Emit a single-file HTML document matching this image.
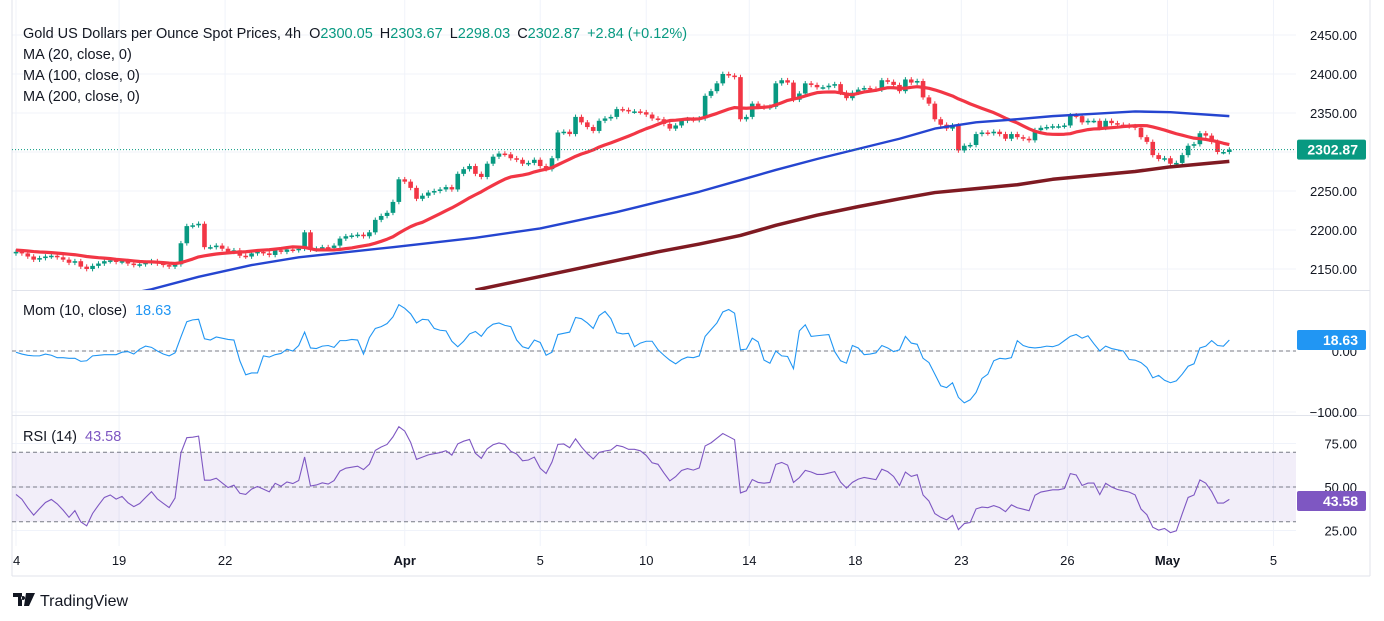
<!DOCTYPE html>
<html><head><meta charset="utf-8"><style>
body{margin:0;background:#fff;width:1384px;height:621px;overflow:hidden;font-family:"Liberation Sans",sans-serif}
svg{position:absolute;left:0;top:0}
</style></head><body>
<svg id="c" width="1384" height="621" xmlns="http://www.w3.org/2000/svg"></svg>
<script>
const closes=[2172,2170,2166,2162,2164,2166,2167,2165,2162,2158,2160,2153,2150,2154,2157,2160,2161,2159,2160,2157,2155,2156,2158,2160,2157,2155,2153,2156,2183,2205,2206,2208,2178,2178,2180,2176,2172,2174,2167,2166,2170,2172,2170,2168,2174,2172,2175,2174,2176,2197,2175,2176,2178,2177,2180,2189,2192,2193,2194,2192,2197,2213,2218,2222,2236,2265,2262,2254,2240,2244,2248,2250,2252,2255,2252,2272,2278,2282,2272,2268,2285,2294,2298,2297,2292,2290,2285,2286,2290,2282,2278,2292,2325,2326,2323,2345,2338,2332,2327,2340,2343,2345,2355,2354,2352,2352,2351,2348,2343,2342,2336,2330,2334,2340,2342,2341,2343,2372,2378,2388,2400,2398,2396,2342,2345,2362,2358,2357,2358,2388,2392,2389,2367,2375,2388,2386,2383,2383,2385,2387,2376,2369,2376,2380,2382,2381,2380,2392,2390,2386,2378,2393,2389,2391,2370,2362,2342,2335,2330,2334,2302,2308,2309,2323,2325,2324,2326,2323,2317,2323,2319,2317,2315,2328,2331,2332,2333,2333,2334,2347,2346,2338,2340,2340,2331,2340,2337,2335,2334,2333,2331,2319,2313,2296,2291,2292,2285,2286,2296,2308,2310,2324,2321,2313,2300,2300,2303];
const priorCloses=[2178,2180,2176,2175,2179,2181,2177,2174,2176,2178,2180,2177,2175,2173,2176,2178,2175,2172,2174,2175,2173,2170,2172,2171,2174,2176,2173,2170];
const ma100Idx=[19,23,31,40,48,64,78,89,102,109,116,123,129,136,143,150,156,163,170,176,183,190,196,206];
const ma100Val=[2118,2124,2140,2155,2165,2178,2190,2202,2223,2236,2249,2264,2277,2291,2304,2317,2330,2338,2342,2346,2349,2352,2351,2346];
const ma200Idx=[78,102,109,116,123,129,136,143,150,156,163,170,176,183,190,196,206];
const ma200Val=[2123,2161,2172,2182,2193,2206,2219,2230,2240,2248,2253,2258,2265,2270,2275,2281,2288];
const priceTicks=[2450,2400,2350,2300,2250,2200,2150];
const momTicks=[0,-100];
const rsiTicks=[75,50,25];
const dateLabels=["4","19","22","Apr","5","10","14","18","23","26","May","5"];
const dateBars=[0,17.5,35.5,66,89,107,124.5,142.5,160.5,178.5,195.5,213.5];

const svg=document.getElementById('c');
const NS='http://www.w3.org/2000/svg';
function el(t,a,p){const e=document.createElementNS(NS,t);for(const k in a)e.setAttribute(k,a[k]);(p||svg).appendChild(e);return e;}
const X=i=>16+5.89*i;
const Y=p=>35+(2450-p)*0.78;
const YM=v=>351-v*0.61;
const YR=v=>487-(v-50)*1.74;
const PL=12,PR=1296;

const defs=el('defs',{});
const cp=(id,y1,y2)=>{const c=el('clipPath',{id},defs);el('rect',{x:PL,y:y1,width:PR-PL,height:y2-y1},c);};
cp('cm',0,290);cp('cmo',291,415);cp('cr',416,546);

const grid=el('g',{});


dateBars.forEach(b=>el('line',{x1:X(b),x2:X(b),y1:0,y2:546,stroke:'#f0f3fa'},grid));
priceTicks.forEach(p=>el('line',{x1:PL,x2:PR,y1:Y(p),y2:Y(p),stroke:'#f0f3fa'},grid));
[YM(0),YM(-100)].forEach(y=>el('line',{x1:PL,x2:PR,y1:y,y2:y,stroke:'#f0f3fa'},grid));
rsiTicks.forEach(v=>el('line',{x1:PL,x2:PR,y1:YR(v),y2:YR(v),stroke:'#f0f3fa'},grid));
el('line',{x1:PL,x2:PL,y1:0,y2:576,stroke:'#e0e3eb'});
el('line',{x1:1370,x2:1370,y1:0,y2:576,stroke:'#e0e3eb'});
[290.5,415.5].forEach(y=>el('line',{x1:PL,x2:1370,y1:y,y2:y,stroke:'#e0e3eb'}));
el('line',{x1:PL,x2:1370,y1:576,y2:576,stroke:'#e0e3eb'});

const cg=el('g',{'clip-path':'url(#cm)'});


closes.forEach((c,i)=>{
  const o=i?closes[i-1]:priorCloses[priorCloses.length-1];
  const col=c>=o?'#089981':'#f23645';
  const hi=Math.max(o,c)+3,lo=Math.min(o,c)-3;
  const g=el('g',{},cg);
  
  
  el('line',{x1:X(i),x2:X(i),y1:Y(hi),y2:Y(lo),stroke:col,'stroke-width':1},g);
  const top=Y(Math.max(o,c)),h=Math.max(1.5,Math.abs(Y(o)-Y(c)));
  el('rect',{x:X(i)-2.3,y:top,width:4.6,height:h,fill:col},g);
});
const all=priorCloses.concat(closes);const off=priorCloses.length;
let pts=[];
closes.forEach((c,i)=>{let s=0;for(let k=0;k<20;k++)s+=all[off+i-k];pts.push(X(i)+','+Y(s/20));});
const m20=el('polyline',{points:pts.join(' '),fill:'none',stroke:'#f23645','stroke-width':3.2,'clip-path':'url(#cm)','stroke-linejoin':'round'});


const m100=el('polyline',{points:ma100Idx.map((b,k)=>X(b)+','+Y(ma100Val[k])).join(' '),fill:'none',stroke:'#2545d0','stroke-width':2.4,'clip-path':'url(#cm)','stroke-linejoin':'round'});


const m200=el('polyline',{points:ma200Idx.map((b,k)=>X(b)+','+Y(ma200Val[k])).join(' '),fill:'none',stroke:'#7f1a22','stroke-width':3.5,'clip-path':'url(#cm)','stroke-linejoin':'round'});


const last=closes[closes.length-1];
el('line',{x1:PL,x2:PR,y1:Y(last),y2:Y(last),stroke:'#089981','stroke-dasharray':'1 2'});

el('line',{x1:PL,x2:PR,y1:YM(0),y2:YM(0),stroke:'#787b86','stroke-dasharray':'4 3'});
let mp=[];
closes.forEach((c,i)=>{const prev=all[off+i-10];mp.push(X(i)+','+YM(c-prev));});
const mom=el('polyline',{points:mp.join(' '),fill:'none',stroke:'#2196f3','stroke-width':1.1,'clip-path':'url(#cmo)'});



el('rect',{x:PL,y:YR(70),width:PR-PL,height:YR(30)-YR(70),fill:'#7e57c2','fill-opacity':0.1});
[70,50,30].forEach(v=>el('line',{x1:PL,x2:PR,y1:YR(v),y2:YR(v),stroke:'#787b86','stroke-dasharray':'4 3'}));
let ag=0,al=0,rp=[];
for(let k=1;k<=14;k++){const d=all[k]-all[k-1];ag+=Math.max(d,0)/14;al+=Math.max(-d,0)/14;}
for(let j=15;j<all.length;j++){const d=all[j]-all[j-1];ag=(ag*13+Math.max(d,0))/14;al=(al*13+Math.max(-d,0))/14;
  if(j>=off){const r=al===0?100:100-100/(1+ag/al);rp.push(X(j-off)+','+YR(r));}}
const rsi=el('polyline',{points:rp.join(' '),fill:'none',stroke:'#7e57c2','stroke-width':1.1,'clip-path':'url(#cr)'});



const T=(x,y,s,a)=>{const t=el('text',Object.assign({x,y,'font-size':13,fill:'#131722'},a||{}));t.textContent=s;return t;};
priceTicks.forEach(p=>{const t=T(1357,Y(p)+5,p.toFixed(2),{'text-anchor':'end'});});
momTicks.forEach(v=>{const t=T(1357,YM(v)+5,(v<0?'\u2212':'')+Math.abs(v).toFixed(2),{'text-anchor':'end'});});
rsiTicks.forEach(v=>{const t=T(1357,YR(v)+5,v.toFixed(2),{'text-anchor':'end'});});
dateLabels.forEach((s,k)=>{const t=T(X(dateBars[k]),565,s,{'text-anchor':k==0?'start':'middle','font-weight':(s=='Apr'||s=='May')?'bold':'normal'});if(k==0)t.setAttribute('x',13);});
function badge(y,txt,col,name){const g=el('g',{});
 el('rect',{x:1297,y:y-10,width:69,height:20,rx:2,fill:col},g);
 const t=T(1358,y+5,txt,{'text-anchor':'end',fill:'#fff','font-size':14,'font-weight':'bold'});g.appendChild(t);}
badge(Y(last),'2302.87','#089981','last-price-badge');
badge(340,'18.63','#2196f3','mom-value-badge');
badge(501,'43.58','#7e57c2','rsi-value-badge');

const lg=el('text',{x:23,y:38,'font-size':14.5,fill:'#131722'});


lg.innerHTML='Gold US Dollars per Ounce Spot Prices, 4h  <tspan dx="4">O</tspan><tspan fill="#089981">2300.05</tspan><tspan dx="7">H</tspan><tspan fill="#089981">2303.67</tspan><tspan dx="7">L</tspan><tspan fill="#089981">2298.03</tspan><tspan dx="7">C</tspan><tspan fill="#089981">2302.87</tspan><tspan dx="7" fill="#089981">+2.84 (+0.12%)</tspan>';
[['MA (20, close, 0)',59,'ma20-legend'],['MA (100, close, 0)',80,'ma100-legend'],['MA (200, close, 0)',101,'ma200-legend']].forEach(a=>{const t=T(23,a[1],a[0],{'font-size':14.5});});
const ml=el('text',{x:23,y:315,'font-size':14.5,fill:'#131722'});ml.innerHTML='Mom (10, close) <tspan fill="#2196f3" dx="4">18.63</tspan>';


const rl=el('text',{x:23,y:441,'font-size':14.5,fill:'#131722'});rl.innerHTML='RSI (14) <tspan fill="#7e57c2" dx="4">43.58</tspan>';


const lgg=el('g',{});


el('path',{d:'M13 593h9v13h-4v-9h-5z M23 596a2 2 0 1 0 0.1 0z M26 593h9l-6 13h-5z',fill:'#131722'},lgg);
const tv=T(40,606,'TradingView',{'font-size':16,fill:'#131722'});lgg.appendChild(tv);
</script>
</body></html>
